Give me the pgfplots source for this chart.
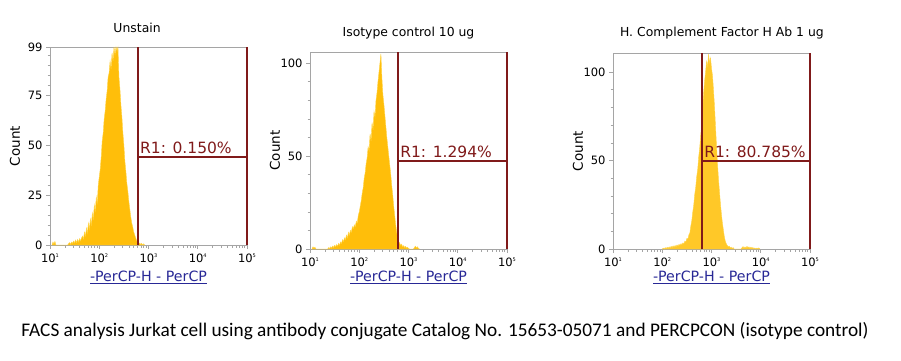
\documentclass[border=0pt]{standalone}
\usepackage{fontspec}
\setmainfont{DejaVu Sans}
\newfontfamily\carlito{Carlito}
\usepackage{pgfplots}
\pgfplotsset{compat=1.18}
\definecolor{amber}{RGB}{255,190,10}
\definecolor{amberedge}{RGB}{255,212,70}
\definecolor{amberlight}{RGB}{255,200,40}
\definecolor{gate}{RGB}{128,26,26}
\definecolor{frame}{RGB}{165,165,165}
\definecolor{xlab}{RGB}{40,40,150}
\newcommand{\tl}[1]{10\raisebox{0.8ex}{\fontsize{5}{5}\selectfont #1}}
\tikzset{
  r1/.style={anchor=base west, inner sep=0pt, xshift=2pt, yshift=4pt, text=gate, font=\fontsize{15.5}{15.5}\selectfont},
}
\pgfplotsset{
  facs/.style={
    scale only axis, width=197pt, anchor=south west,
    xmin=1, xmax=5, ymin=0,
    xtick={1,2,3,4,5},
    xticklabels={\tl{1},\tl{2},\tl{3},\tl{4},\tl{5}},
    minor xtick={1.301,1.477,1.602,1.699,1.778,1.845,1.903,1.954,
                 2.301,2.477,2.602,2.699,2.778,2.845,2.903,2.954,
                 3.301,3.477,3.602,3.699,3.778,3.845,3.903,3.954,
                 4.301,4.477,4.602,4.699,4.778,4.845,4.903,4.954},
    tick align=outside, xtick pos=bottom, ytick pos=left,
    major tick length=4pt, minor tick length=2.5pt,
    axis line style={draw=frame, line width=0.8pt},
    every tick/.style={draw=frame, line width=0.6pt},
    every minor tick/.style={draw=frame, line width=0.5pt},
    /pgf/number format/assume math mode=true,
    tick label style={font=\fontsize{11.5}{11.5}\selectfont, text=black},
    xticklabel style={yshift=-1pt},
    ylabel={Count},
    ylabel style={at={(axis description cs:-0.178,0.5)}, rotate=0, anchor=center, font=\fontsize{13.5}{13.5}\selectfont},
    xlabel={\underline{-PerCP-H - PerCP}},
    xlabel style={at={(axis description cs:0.5,0)}, anchor=center, font=\fontsize{14.2}{14.2}\selectfont, text=xlab},
    title style={anchor=center, font=\fontsize{12.4}{12.4}\selectfont},
    clip=false,
  },
  hist/.style={fill=amber, draw=amberedge, line width=0.4pt},
  gateline/.style={draw=gate, line width=2pt},
}
\begin{document}
\begin{tikzpicture}
\path[use as bounding box] (0pt,0pt) rectangle (901pt,360pt);
% ---------------- Panel 1 ----------------
\begin{axis}[facs, at={(50pt,115pt)}, height=198pt, ymax=99,
  ytick={0,25,50,75,99}, minor ytick={5,10,15,20,30,35,40,45,55,60,65,70,80,85,90,95},
  title={Unstain}, title style={at={(axis description cs:0.442,1)}, yshift=13pt},
  xlabel style={yshift=-32pt}]
\addplot[hist] table {
x y
1.04 0
1.06 1.5
1.08 0.5
1.10 1.8
1.12 0
1.36 0
1.38 0.8
1.40 1.2
1.42 0.3
1.44 1.5
1.46 0.8
1.48 2.0
1.50 1.0
1.52 2.5
1.54 1.2
1.56 2.8
1.58 1.5
1.60 3.2
1.62 2.0
1.64 3.5
1.66 4.5
1.68 3.0
1.70 6.5
1.72 4.5
1.74 8.5
1.76 6.0
1.78 11
1.80 8
1.82 13
1.84 10
1.86 16
1.88 13
1.90 20
1.92 17
1.94 24
1.96 21
1.98 30
2.00 34
2.02 38
2.04 44
2.06 52
2.08 56
2.10 63
2.12 67
2.14 73
2.16 77
2.18 84
2.20 86
2.22 92
2.24 88
2.26 96
2.28 92
2.30 99
2.32 95
2.34 99
2.36 97
2.38 99
2.40 84
2.42 78
2.44 70
2.46 64
2.48 56
2.50 50
2.52 42
2.54 37
2.56 31
2.58 27
2.60 22
2.62 18
2.64 14
2.66 11
2.68 9
2.70 6.5
2.72 5
2.74 3.5
2.76 2.2
2.78 1.2
2.80 0.5
2.82 1.0
2.84 0.3
2.86 0.8
2.88 0
2.90 0.6
2.92 0
} \closedcycle;
\addplot[gateline] coordinates {(2.787,0) (2.787,99)};
\addplot[gateline] coordinates {(5,0) (5,99)};
\addplot[gateline] coordinates {(2.787,44) (5,44)};
\node[r1] at (axis cs:2.787,44) {R1: 0.150\%};
\end{axis}
% ---------------- Panel 2 ----------------
\begin{axis}[facs, at={(310pt,111pt)}, height=197pt, ymax=106,
  ytick={0,50,100}, minor ytick={10,20,30,40,60,70,80,90},
  title={Isotype control 10 ug}, title style={at={(axis description cs:0.5,1)}, yshift=13pt},
  xlabel style={yshift=-28pt}]
\addplot[hist] table {
x y
1.04 0
1.06 1.2
1.08 0.4
1.10 1.0
1.12 0
1.36 0
1.38 0.8
1.40 0.3
1.42 1.2
1.44 0.5
1.46 1.6
1.48 0.8
1.50 2.0
1.52 1.2
1.54 2.4
1.56 1.5
1.58 3.0
1.60 2.0
1.62 3.8
1.64 3.0
1.66 5.0
1.68 4.0
1.70 6.0
1.72 5.0
1.74 7.5
1.76 6.0
1.78 9
1.80 7.5
1.82 10
1.84 9
1.86 12
1.88 11
1.90 13
1.92 12
1.94 15
1.96 14
1.98 18
2.00 20
2.02 23
2.04 26
2.06 30
2.08 33
2.10 38
2.12 41
2.14 46
2.16 49
2.18 55
2.20 53
2.22 62
2.24 58
2.26 68
2.28 64
2.30 74
2.32 71
2.34 80
2.36 84
2.38 90
2.40 95
2.42 100
2.44 105
2.46 92
2.48 83
2.50 78
2.52 72
2.54 66
2.56 60
2.58 55
2.60 50
2.62 45
2.64 40
2.66 34
2.68 29
2.70 23
2.72 18
2.74 13
2.76 9
2.78 6
2.80 4
2.82 3.2
2.84 2.0
2.86 2.6
2.88 1.2
2.90 1.8
2.92 0.8
2.94 1.4
2.96 0.5
2.98 1.0
3.00 0.3
3.02 0
3.10 0
3.12 0.8
3.14 1.5
3.16 0.6
3.18 1.2
3.20 0.4
3.22 0
} \closedcycle;
\addplot[gateline] coordinates {(2.79,0) (2.79,106)};
\addplot[gateline] coordinates {(5,0) (5,106)};
\addplot[gateline] coordinates {(2.79,47.3) (5,47.3)};
\node[r1] at (axis cs:2.79,47.3) {R1: 1.294\%};
\end{axis}
% ---------------- Panel 3 ----------------
\begin{axis}[facs, at={(613pt,111pt)}, height=196pt, ymax=110.7,
  ytick={0,50,100}, minor ytick={10,20,30,40,60,70,80,90},
  title={H. Complement Factor H Ab 1 ug}, title style={at={(axis description cs:0.553,1)}, yshift=14pt},
  xlabel style={yshift=-28pt}]
\addplot[hist, fill=amberlight] table {
x y
2.00 0
2.02 0.5
2.04 0
2.06 0.8
2.08 0.3
2.10 1.0
2.12 0.4
2.14 1.2
2.16 0.6
2.18 1.5
2.20 0.8
2.22 1.8
2.24 1.0
2.26 2.0
2.28 1.3
2.30 2.3
2.32 1.6
2.34 2.6
2.36 2.0
2.38 3.0
2.40 2.4
2.42 3.5
2.44 3.0
2.46 4.5
2.48 4.0
2.50 6
2.52 5.5
2.54 8
2.56 9
2.58 13
2.60 16
2.62 21
2.64 25
2.66 31
2.68 35
2.70 41
2.72 45
2.74 52
2.76 57
2.78 64
2.80 70
2.82 79
2.84 88
2.86 95
2.88 100
2.90 106
2.92 103
2.94 110
2.96 105
2.98 108
3.00 102
3.02 98
3.04 90
3.06 81
3.08 70
3.10 59
3.12 49
3.14 40
3.16 33
3.18 26
3.20 20
3.22 15
3.24 11
3.26 7
3.28 4.5
3.30 3
3.32 2
3.34 1.2
3.36 1.6
3.38 0.6
3.40 1.0
3.42 0.3
3.44 0.8
3.46 0
3.60 0
3.62 0.8
3.64 1.4
3.66 0.5
3.68 1.2
3.70 0.6
3.72 1.5
3.74 0.8
3.76 1.2
3.78 0.4
3.80 1.0
3.82 0.5
3.84 0.8
3.86 0.2
3.88 0.6
3.90 0
3.92 0.5
3.94 0.2
3.96 0.6
3.98 0
} \closedcycle;
\addplot[gateline] coordinates {(2.81,0) (2.81,110.7)};
\addplot[gateline] coordinates {(5,0) (5,110.7)};
\addplot[gateline] coordinates {(2.81,49.7) (5,49.7)};
\node[r1] at (axis cs:2.81,49.7) {R1: 80.785\%};
\end{axis}
\node[anchor=center, inner sep=0pt, font=\carlito\fontsize{19.3}{19.3}\selectfont] at (445pt,29pt) {FACS analysis Jurkat cell using antibody conjugate Catalog No. 15653-05071 and PERCPCON (isotype control)};
\end{tikzpicture}
\end{document}
